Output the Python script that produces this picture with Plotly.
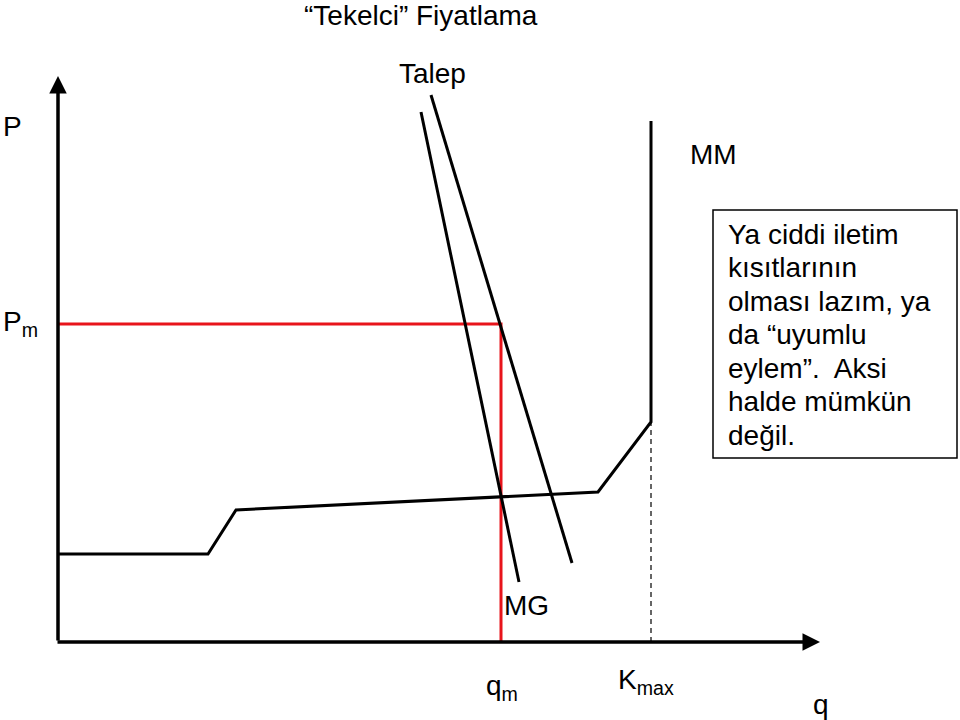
import plotly.graph_objects as go

# ---- data (diagram units: q to the right, P upward; origin at axis corner) ----
talep_q = [373, 514]
talep_p = [547, 79]
mg_q = [363, 461]
mg_p = [530, 60]
mm_q = [0, 150, 178, 540, 593, 593]
mm_p = [88, 88, 132, 150, 220, 521]
q_m = 443
p_m = 318
k_max = 593
k_max_p = 220
axis_q_max = 762
axis_p_max = 566

box_lines = ["Ya ciddi iletim", "kısıtlarının", "olması lazım, ya",
             "da “uyumlu", "eylem”.  Aksi", "halde mümkün", "değil."]

FONT = "Liberation Sans, Arial, sans-serif"
BLACK = "#000000"
RED = "#e8141b"
FS = 28

fig = go.Figure()

# red guide lines (Pm and qm)
fig.add_trace(go.Scatter(x=[0, q_m, q_m], y=[p_m, p_m, 0], mode="lines",
                         line=dict(color=RED, width=3), hoverinfo="skip"))
# dashed Kmax line
fig.add_trace(go.Scatter(x=[k_max, k_max], y=[0, k_max_p], mode="lines",
                         line=dict(color="#333333", width=1.5, dash="5px,4px"),
                         hoverinfo="skip"))
# MM cost curve
fig.add_trace(go.Scatter(x=mm_q, y=mm_p, mode="lines",
                         line=dict(color=BLACK, width=3), hoverinfo="skip"))
# Talep (demand)
fig.add_trace(go.Scatter(x=talep_q, y=talep_p, mode="lines",
                         line=dict(color=BLACK, width=3), hoverinfo="skip"))
# MG (marginal revenue)
fig.add_trace(go.Scatter(x=mg_q, y=mg_p, mode="lines",
                         line=dict(color=BLACK, width=3), hoverinfo="skip"))

annotations = []
# axes with arrows
annotations.append(dict(x=0, y=axis_p_max, ax=0, ay=0, xref="x", yref="y",
                        axref="x", ayref="y", text="", showarrow=True,
                        arrowhead=2, arrowsize=1.0, arrowwidth=3.5,
                        arrowcolor=BLACK, standoff=0, startstandoff=0))
annotations.append(dict(x=axis_q_max, y=0, ax=-2, ay=0, xref="x", yref="y",
                        axref="x", ayref="y", text="", showarrow=True,
                        arrowhead=2, arrowsize=1.0, arrowwidth=3.5,
                        arrowcolor=BLACK, standoff=0, startstandoff=0))


def label(text, x, y, xanchor="center", yanchor="middle", size=FS):
    annotations.append(dict(x=x, y=y, xref="x", yref="y", text=text,
                            showarrow=False, xanchor=xanchor, yanchor=yanchor,
                            font=dict(family=FONT, size=size, color=BLACK)))


label("“Tekelci” Fiyatlama", 363, 627)
label("Talep", 374, 569)
label("P", -57, 516, xanchor="left")
label("P<sub>m</sub>", -57, 319, xanchor="left")
label("MM", 655, 488)
label("MG", 468, 37)
label("q<sub>m</sub>", 444, -45)
label("K<sub>max</sub>", 588, -39)
label("q", 763, -62)

# text box
fig.add_shape(type="rect", x0=655, x1=899, y0=184, y1=432, xref="x", yref="y",
              line=dict(color=BLACK, width=1.5), fillcolor="white", layer="above")
line_top = 408
line_step = 33.5
for i, t in enumerate(box_lines):
    annotations.append(dict(x=668, y=line_top - i * line_step, xref="x", yref="y",
                            text=t, showarrow=False,
                            xanchor="left", yanchor="middle", align="left",
                            font=dict(family=FONT, size=FS, color=BLACK)))

fig.update_layout(
    width=960, height=720,
    margin=dict(l=0, r=0, t=0, b=0),
    paper_bgcolor="white", plot_bgcolor="white",
    showlegend=False,
    annotations=annotations,
    xaxis=dict(range=[-58, 902], visible=False, fixedrange=True),
    yaxis=dict(range=[-78, 642], visible=False, fixedrange=True),
)

fig.write_html("out.html")
